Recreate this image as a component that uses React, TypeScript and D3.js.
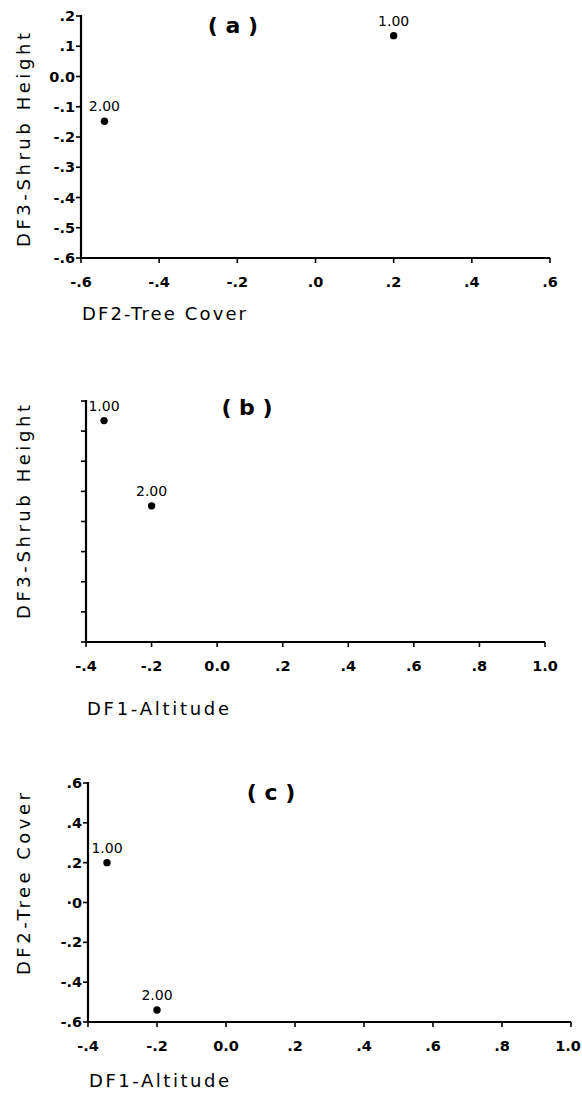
import React from "react";
import * as d3 from "d3";

// ---- data ----
const groups = ["1.00", "2.00"];
const df1Altitude = [-0.345, -0.2];
const df2TreeCover = [0.2, -0.54];
const df3ShrubHeight = [0.135, -0.148];

const ticksDF2a = [-0.6, -0.4, -0.2, 0.0, 0.2, 0.4, 0.6];
const tickLabelsDF2a = ["-.6", "-.4", "-.2", ".0", ".2", ".4", ".6"];
const ticksDF3 = [0.2, 0.1, 0.0, -0.1, -0.2, -0.3, -0.4, -0.5, -0.6];
const tickLabelsDF3 = [".2", ".1", "0.0", "-.1", "-.2", "-.3", "-.4", "-.5", "-.6"];
const ticksDF1 = [-0.4, -0.2, 0.0, 0.2, 0.4, 0.6, 0.8, 1.0];
const tickLabelsDF1 = ["-.4", "-.2", "0.0", ".2", ".4", ".6", ".8", "1.0"];
const ticksDF2c = [0.6, 0.4, 0.2, 0.0, -0.2, -0.4, -0.6];
const tickLabelsDF2c = [".6", ".4", ".2", "·0", "-.2", "-.4", "-.6"];

const FONT = "'DejaVu Sans', sans-serif";
const W = 582;

type PanelProps = {
  title: string;
  titleX: number;
  titleY: number;
  left: number;
  right: number;
  top: number;
  bottom: number;
  xDomain: [number, number];
  yDomain: [number, number];
  xTicks: number[];
  xTickLabels: string[];
  yTicks: number[];
  yTickLabels: string[] | null;
  xs: number[];
  ys: number[];
  xLabel: string;
  xLabelY: number;
  xLabelLen: number;
  yLabel: string;
  yLabelCy: number;
  yLabelLen: number;
};

function Panel(p: PanelProps) {
  const x = d3.scaleLinear().domain(p.xDomain).range([p.left, p.right]);
  const y = d3.scaleLinear().domain(p.yDomain).range([p.bottom, p.top]);
  return (
    <g>
      {/* axes */}
      <line x1={p.left} x2={p.left} y1={p.top - 1} y2={p.bottom + 1} stroke="#000" strokeWidth={2.2} />
      <line x1={p.left - 1} x2={p.right} y1={p.bottom} y2={p.bottom} stroke="#000" strokeWidth={2.2} />
      {p.xTicks.map((t, i) => (
        <g key={"xt" + i}>
          <line x1={x(t)} x2={x(t)} y1={p.bottom} y2={p.bottom + 5} stroke="#000" strokeWidth={1.6} />
          <text
            x={Math.min(x(t), W - 14)}
            y={p.bottom + 29}
            textAnchor="middle"
            fontSize={14.5}
            fontFamily={FONT}
            fontWeight={600}
          >
            {p.xTickLabels[i]}
          </text>
        </g>
      ))}
      {p.yTicks.map((t, i) => (
        <g key={"yt" + i}>
          <line x1={p.left - 5} x2={p.left} y1={y(t)} y2={y(t)} stroke="#000" strokeWidth={1.6} />
          {p.yTickLabels && (
            <text x={p.left - 6} y={y(t) + 5} textAnchor="end" fontSize={14.5} fontFamily={FONT} fontWeight={600}>
              {p.yTickLabels[i]}
            </text>
          )}
        </g>
      ))}
      {/* points */}
      {groups.map((g, i) => (
        <g key={"pt" + i}>
          <circle cx={x(p.xs[i])} cy={y(p.ys[i])} r={3.7} fill="#000" />
          <text x={x(p.xs[i])} y={y(p.ys[i]) - 10} textAnchor="middle" fontSize={14} fontFamily={FONT}>
            {g}
          </text>
        </g>
      ))}
      {/* title */}
      <text x={p.titleX} y={p.titleY} textAnchor="middle" fontSize={22} fontWeight="bold" fontFamily={FONT} dominantBaseline="central">
        {p.title}
      </text>
      {/* axis labels */}
      <text x={p.left + 1} y={p.xLabelY} fontSize={18} fontFamily={FONT} textLength={p.xLabelLen} lengthAdjust="spacing">
        {p.xLabel}
      </text>
      <text
        transform={`translate(${30},${p.yLabelCy}) rotate(-90)`}
        textAnchor="middle"
        fontSize={18}
        fontFamily={FONT}
        textLength={p.yLabelLen}
        lengthAdjust="spacing"
      >
        {p.yLabel}
      </text>
    </g>
  );
}

export default function App() {
  return (
    <svg
      width={582}
      height={1097}
      style={{ position: "absolute", left: 0, top: 0, background: "#fff" }}
    >
      <rect width={582} height={1097} fill="#fff" />
      <Panel
        title="( a )"
        titleX={233}
        titleY={25}
        left={81}
        right={550}
        top={16}
        bottom={258}
        xDomain={[-0.6, 0.6]}
        yDomain={[-0.6, 0.2]}
        xTicks={ticksDF2a}
        xTickLabels={tickLabelsDF2a}
        yTicks={ticksDF3}
        yTickLabels={tickLabelsDF3}
        xs={df2TreeCover}
        ys={df3ShrubHeight}
        xLabel="DF2-Tree Cover"
        xLabelY={320}
        xLabelLen={164}
        yLabel="DF3-Shrub Height"
        yLabelCy={140}
        yLabelLen={214}
      />
      <Panel
        title="( b )"
        titleX={247}
        titleY={407}
        left={86}
        right={545}
        top={401}
        bottom={642}
        xDomain={[-0.4, 1.0]}
        yDomain={[-0.6, 0.2]}
        xTicks={ticksDF1}
        xTickLabels={tickLabelsDF1}
        yTicks={ticksDF3}
        yTickLabels={null}
        xs={df1Altitude}
        ys={df3ShrubHeight}
        xLabel="DF1-Altitude"
        xLabelY={715}
        xLabelLen={142}
        yLabel="DF3-Shrub Height"
        yLabelCy={512}
        yLabelLen={214}
      />
      <Panel
        title="( c )"
        titleX={271}
        titleY={792}
        left={88}
        right={571}
        top={783}
        bottom={1022}
        xDomain={[-0.4, 1.0]}
        yDomain={[-0.6, 0.6]}
        xTicks={ticksDF1}
        xTickLabels={tickLabelsDF1}
        yTicks={ticksDF2c}
        yTickLabels={tickLabelsDF2c}
        xs={df1Altitude}
        ys={df2TreeCover}
        xLabel="DF1-Altitude"
        xLabelY={1087}
        xLabelLen={140}
        yLabel="DF2-Tree Cover"
        yLabelCy={884}
        yLabelLen={182}
      />
    </svg>
  );
}
